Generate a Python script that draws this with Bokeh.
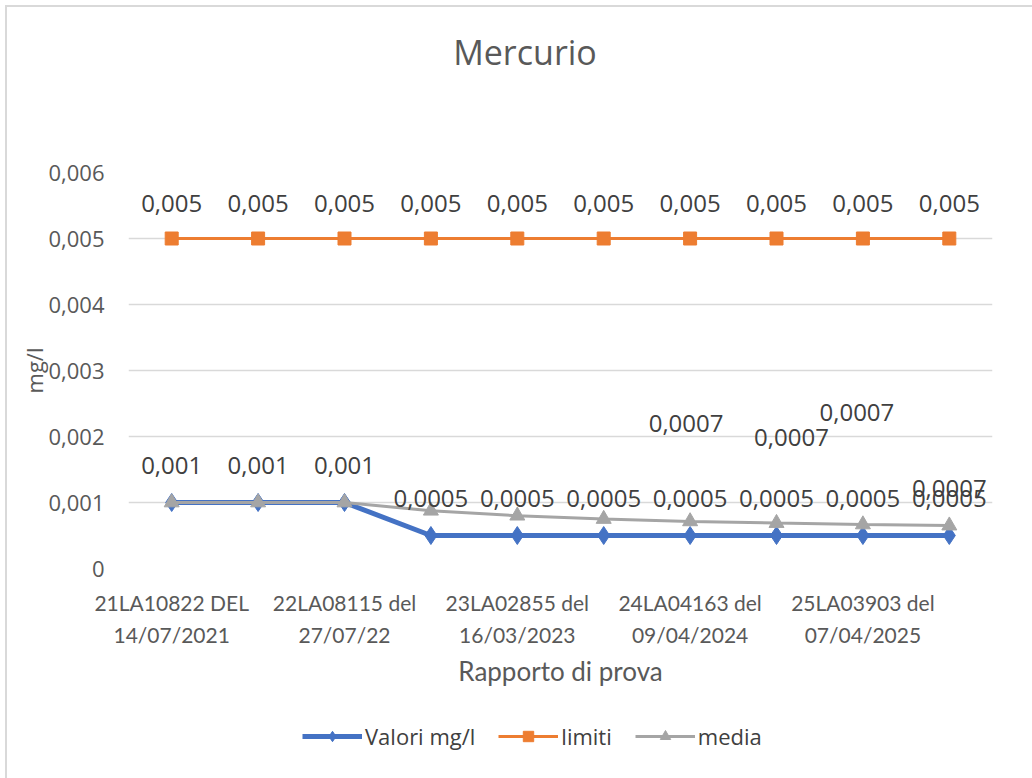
from decimal import Decimal, ROUND_HALF_UP

from bokeh.plotting import figure
from bokeh.layouts import column
from bokeh.models import (ColumnDataSource, Range1d, FixedTicker, CustomJSTickFormatter,
                          Legend, LegendItem, Div)
from bokeh.core.properties import value
from bokeh.embed import file_html
from bokeh.resources import INLINE

# ---------------- data ----------------
reports = [
    "21LA10822 DEL\n14/07/2021", "",
    "22LA08115 del\n27/07/22", "",
    "23LA02855 del\n16/03/2023", "",
    "24LA04163 del\n09/04/2024", "",
    "25LA03903 del\n07/04/2025", "",
]
valori = [0.001, 0.001, 0.001, 0.0005, 0.0005, 0.0005, 0.0005, 0.0005, 0.0005, 0.0005]
limiti = [0.005, 0.005, 0.005, 0.005, 0.005, 0.005, 0.005, 0.005, 0.005, 0.005]
media = [0.001, 0.001, 0.001, 0.000875, 0.0008, 0.00075, 0.000714, 0.000688, 0.000667, 0.00065]
media_shown = [False, False, False, False, False, False, True, True, True, True]
y_ticks = [0.0, 0.001, 0.002, 0.003, 0.004, 0.005, 0.006]
series_names = ["Valori mg/l", "limiti", "media"]

# displacement of the "media" data labels (screen px, as in the original)
media_dx = [0, 0, 0, 0, 0, 0, -4, 15, -6, 0]
media_dy = [-37, -37, -37, -37, -37, -37, -98, -86, -112, -37]


def fmt(v):
    d = Decimal(str(v)).quantize(Decimal("0.0001"), rounding=ROUND_HALF_UP)
    s = format(d, "f").rstrip("0").rstrip(".")
    return s.replace(".", ",")


xs = list(range(1, len(valori) + 1))
src = ColumnDataSource(dict(
    x=xs, valori=valori, limiti=limiti, media=media,
    valori_lbl=[fmt(v) for v in valori],
    limiti_lbl=[fmt(v) for v in limiti],
))
mi = [i for i, s in enumerate(media_shown) if s]
msrc = ColumnDataSource(dict(
    x=[xs[i] for i in mi], y=[media[i] for i in mi],
    lbl=[fmt(media[i]) for i in mi],
    dx=[media_dx[i] for i in mi], dy=[media_dy[i] for i in mi],
))

BLUE = "#4472C4"
ORANGE = "#ED7D31"
GREY = "#A5A5A5"
TXT = "#595959"
LBL = "#404040"
W = 1032
TITLE_H = 104
LEG_H = 74
MAIN_H = 778 - TITLE_H - LEG_H

# ---------------- title ----------------
title = Div(text='<span style="font-family:\'Open Sans\';font-size:34px;color:#595959;">Mercurio</span>',
            width=W, height=TITLE_H, margin=(0, 0, 0, 0),
            styles={"text-align": "center", "text-indent": "18px",
                    "line-height": f"{TITLE_H}px", "white-space": "nowrap"})

# ---------------- main chart ----------------
p = figure(width=W, height=MAIN_H,
           x_range=Range1d(0.5, len(xs) + 0.5), y_range=Range1d(0, 0.006),
           output_backend="svg", toolbar_location=None,
           min_border_left=128, min_border_right=40,
           min_border_top=172 - TITLE_H, min_border_bottom=MAIN_H + TITLE_H - 568)
p.title.visible = False
p.outline_line_color = None
p.background_fill_color = "white"
p.border_fill_color = None

p.xgrid.grid_line_color = None
p.ygrid.grid_line_color = "#d9d9d9"
p.ygrid.grid_line_width = 1.5

p.xaxis.ticker = FixedTicker(ticks=[x for x, r in zip(xs, reports) if r])
p.xaxis.major_label_overrides = {x: r for x, r in zip(xs, reports) if r}
p.yaxis.ticker = FixedTicker(ticks=y_ticks)
p.yaxis.formatter = CustomJSTickFormatter(
    code="return tick == 0 ? '0' : tick.toFixed(3).replace('.', ',');")
for ax in (p.xaxis[0], p.yaxis[0]):
    ax.axis_line_color = None
    ax.major_tick_line_color = None
    ax.minor_tick_line_color = None
    ax.major_tick_out = 0
    ax.major_tick_in = 0
    ax.major_label_text_color = TXT
    ax.axis_label_text_color = TXT
    ax.axis_label_text_font_style = "normal"

p.xaxis.major_label_text_font = "Lato"
p.xaxis.major_label_text_font_size = "21px"
p.xaxis.major_label_text_line_height = 1.3
p.xaxis.major_label_standoff = 21
p.xaxis.axis_label = "Rapporto di prova"
p.xaxis.axis_label_text_font = "Lato"
p.xaxis.axis_label_text_font_size = "26px"
p.xaxis.axis_label_standoff = 5

p.yaxis.major_label_text_font = "Open Sans"
p.yaxis.major_label_text_font_size = "22px"
p.yaxis.major_label_standoff = 24
p.yaxis.axis_label = "mg/l"
p.yaxis.axis_label_text_font = "Open Sans"
p.yaxis.axis_label_text_font_size = "22px"
p.yaxis.axis_label_standoff = -4

styles = [
    dict(line_color=BLUE, line_width=5, marker="diamond", size=18),
    dict(line_color=ORANGE, line_width=3, marker="square", size=13),
    dict(line_color=GREY, line_width=3, marker="triangle", size=15),
]
cols = ["valori", "limiti", "media"]
for c, st in zip(cols, styles):
    p.line("x", c, source=src, line_color=st["line_color"], line_width=st["line_width"])
    p.scatter("x", c, source=src, marker=st["marker"], size=st["size"],
              fill_color=st["line_color"], line_color=st["line_color"])

common = dict(text_font=value("Open Sans"), text_font_size="24px",
              text_color=LBL, text_align="center", text_baseline="middle")
p.text("x", "limiti", text="limiti_lbl", source=src, y_offset=-35, **common)
p.text("x", "valori", text="valori_lbl", source=src, y_offset=-37, **common)
p.text("x", "y", text="lbl", source=msrc, x_offset="dx", y_offset="dy", **common)

# ---------------- legend strip (same series, kept out of view) ----------------
pl = figure(width=W, height=LEG_H, x_range=Range1d(0.5, len(xs) + 0.5), y_range=Range1d(1, 2),
            output_backend="svg", toolbar_location=None, min_border=0,
            x_axis_type=None, y_axis_type=None)
pl.title.visible = False
pl.outline_line_color = None
pl.background_fill_color = None
pl.border_fill_color = None
pl.grid.visible = False
items = []
for name, c, st in zip(series_names, cols, styles):
    ln = pl.line("x", c, source=src, line_color=st["line_color"], line_width=st["line_width"])
    sc = pl.scatter("x", c, source=src, marker=st["marker"], size=st["size"],
                    fill_color=st["line_color"], line_color=st["line_color"])
    items.append(LegendItem(label=name, renderers=[ln, sc]))
legend = Legend(items=items, orientation="horizontal", location=(174, 27),
                border_line_color=None, background_fill_alpha=0,
                padding=0, margin=0, spacing=23, label_standoff=3,
                glyph_width=60, glyph_height=26, label_height=26,
                label_text_font="Open Sans", label_text_font_size="22px",
                label_text_color=LBL)
pl.add_layout(legend, "center")

layout = column(title, p, pl, spacing=0,
                styles={"box-shadow": "inset 5px 5px 0 0 white, inset 7px 7px 0 0 #d9d9d9"})

open("out.html", "w").write(file_html(layout, INLINE))
